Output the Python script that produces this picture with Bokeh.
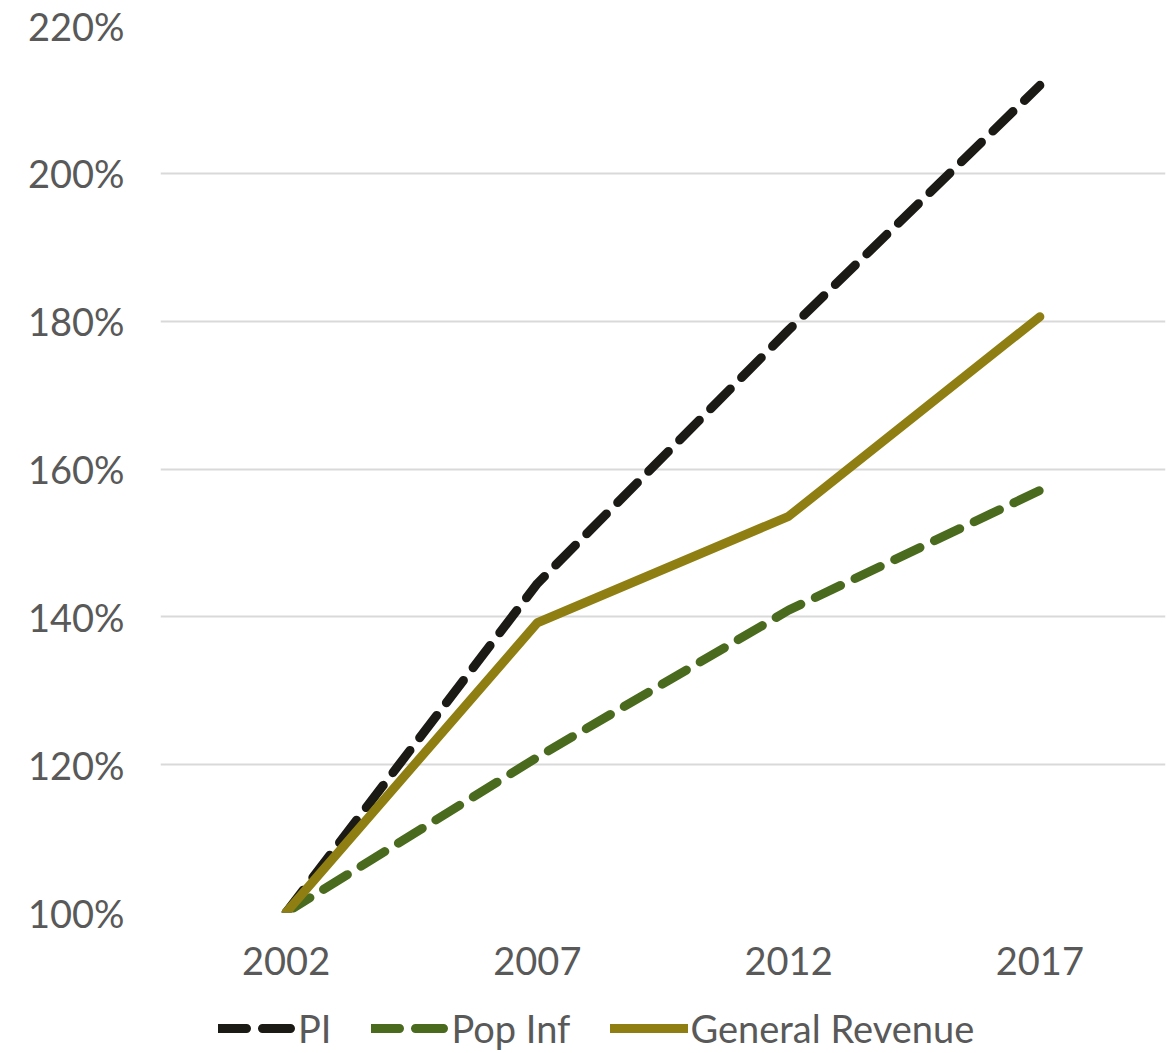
from bokeh.plotting import figure
from bokeh.layouts import column
from bokeh.models import Legend, LegendItem, FixedTicker, NumeralTickFormatter
from bokeh.embed import file_html
from bokeh.resources import INLINE

years = ["2002", "2007", "2012", "2017"]
pi = [1.00, 1.445, 1.788, 2.119]
pop_inf = [1.00, 1.21, 1.409, 1.571]
gen_rev = [1.00, 1.392, 1.536, 1.806]
y_ticks = [1.0, 1.2, 1.4, 1.6, 1.8, 2.0, 2.2]
series = [("PI", pi, "#1c1a14", "28 16"),
          ("Pop Inf", pop_inf, "#4a6b1e", "28 16"),
          ("General Revenue", gen_rev, "#8f7f12", "solid")]

FONT = "Lato"
TXT = "#595959"
LEG_H = 60

p = figure(x_range=years, y_range=(1.0, 2.2), width=1171, height=1053 - LEG_H,
           output_backend="svg", toolbar_location=None,
           min_border_left=160, min_border_right=6, min_border_top=25,
           min_border_bottom=1053 - LEG_H - 912)
p.outline_line_color = None
p.x_range.range_padding = 0

for name, vals, col, dash in series:
    p.line(years, vals, line_color=col, line_width=9, line_dash=dash, line_cap="round")

p.yaxis.ticker = FixedTicker(ticks=y_ticks)
p.yaxis.formatter = NumeralTickFormatter(format="0%")
for ax in (p.xaxis[0], p.yaxis[0]):
    ax.axis_line_color = None
    ax.major_tick_line_color = None
    ax.minor_tick_line_color = None
    ax.major_label_text_font = FONT
    ax.major_label_text_font_size = "38px"
    ax.major_label_text_color = TXT
p.yaxis.major_label_standoff = 30
p.xaxis.major_label_standoff = 28

p.xgrid.grid_line_color = None
p.ygrid.grid_line_color = "#d9d9d9"
p.ygrid.grid_line_width = 2
p.ygrid.ticker = FixedTicker(ticks=y_ticks)

# legend strip below the chart (lines drawn out of view, only legend shows)
q = figure(x_range=years, y_range=(-1.0, 0.0), width=1171, height=LEG_H,
           output_backend="svg", toolbar_location=None,
           min_border_left=0, min_border_right=0, min_border_top=0, min_border_bottom=0)
q.outline_line_color = None
q.axis.visible = False
q.grid.grid_line_color = None
items = []
for name, vals, col, dash in series:
    r = q.line(years, vals, line_color=col, line_width=9, line_dash=dash, line_cap="round")
    items.append(LegendItem(label=name, renderers=[r]))

legend = Legend(items=items, orientation="horizontal", location=(58, 2),
                label_text_font=FONT, label_text_font_size="38px", label_text_color=TXT,
                glyph_width=78, glyph_height=20, spacing=40, label_standoff=2,
                border_line_color=None, background_fill_alpha=0, margin=0, padding=0)
q.add_layout(legend, "center")

layout = column(p, q, spacing=0)
open("out.html", "w").write(file_html(layout, INLINE))
